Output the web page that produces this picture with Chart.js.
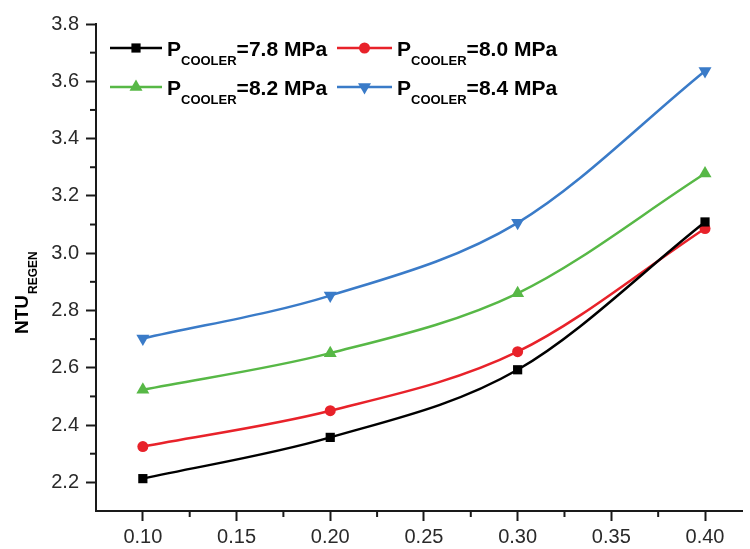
<!DOCTYPE html>
<html>
<head>
<meta charset="utf-8">
<script src="https://cdn.jsdelivr.net/npm/chart.js@4/dist/chart.umd.min.js"></script>
<style>
    html, body { margin: 0; padding: 0; background: #fff; }
    #wrap { width: 750px; height: 549px; position: relative; }
</style>
</head>
<body>
<div id="wrap"><canvas id="chartCanvas"></canvas></div>
<script>
const xValues = [0.10, 0.20, 0.30, 0.40]; // x positions of the points
const p78 = [2.213, 2.357, 2.593, 3.109]; // P_COOLER = 7.8 MPa
const p80 = [2.325, 2.450, 2.656, 3.086]; // P_COOLER = 8.0 MPa
const p82 = [2.523, 2.651, 2.860, 3.278]; // P_COOLER = 8.2 MPa
const p84 = [2.702, 2.852, 3.106, 3.636]; // P_COOLER = 8.4 MPa
const seriesValues = ["=7.8 MPa", "=8.0 MPa", "=8.2 MPa", "=8.4 MPa"];
const xTicks = [0.10, 0.15, 0.20, 0.25, 0.30, 0.35, 0.40];
const yTicks = [2.2, 2.4, 2.6, 2.8, 3.0, 3.2, 3.4, 3.6, 3.8];

const styles = [
    { color: "#000000", pointStyle: "rect", radius: 6.5, rotation: 0 },
    { color: "#e8222a", pointStyle: "circle", radius: 5.5, rotation: 0 },
    { color: "#57b846", pointStyle: "triangle", radius: 7.5, rotation: 0 },
    { color: "#3a7bc8", pointStyle: "triangle", radius: 7.5, rotation: 180 }
];

const allSeries = [p78, p80, p82, p84];

const datasets = allSeries.map(function (vals, i) {
    return {
        label: "P COOLER" + seriesValues[i],
        data: vals.map(function (v, j) { return { x: xValues[j], y: v }; }),
        borderColor: styles[i].color,
        backgroundColor: styles[i].color,
        borderWidth: 2.5,
        pointStyle: styles[i].pointStyle,
        pointRadius: styles[i].radius,
        pointRotation: styles[i].rotation,
        pointBorderWidth: 0,
        pointHoverRadius: styles[i].radius,
        cubicInterpolationMode: "monotone",
        clip: false
    };
});

const fontFamily = "'Liberation Sans', Arial, sans-serif";
const axisColor = "#1a1a1a";

// minor ticks, legend with subscripts, y axis title
const extras = {
    id: "extras",
    afterDraw: function (chart) {
        const ctx = chart.ctx;
        const xs = chart.scales.x;
        const ys = chart.scales.y;
        const area = chart.chartArea;

        ctx.save();
        ctx.strokeStyle = axisColor;
        ctx.lineWidth = 2;
        for (let i = 0; i < xTicks.length - 1; i++) {
            const px = xs.getPixelForValue((xTicks[i] + xTicks[i + 1]) / 2);
            ctx.beginPath();
            ctx.moveTo(px, area.bottom);
            ctx.lineTo(px, area.bottom + 6);
            ctx.stroke();
        }
        for (let i = 0; i < yTicks.length - 1; i++) {
            const py = ys.getPixelForValue((yTicks[i] + yTicks[i + 1]) / 2);
            ctx.beginPath();
            ctx.moveTo(area.left, py);
            ctx.lineTo(area.left - 6, py);
            ctx.stroke();
        }

        // legend
        const cols = [{ x0: 110, x1: 162 }, { x0: 337, x1: 392 }];
        const rows = [48, 87];
        for (let i = 0; i < 4; i++) {
            const c = cols[i % 2];
            const ry = rows[Math.floor(i / 2)];
            const st = styles[i];
            ctx.strokeStyle = st.color;
            ctx.fillStyle = st.color;
            ctx.lineWidth = 2.5;
            ctx.beginPath();
            ctx.moveTo(c.x0, ry);
            ctx.lineTo(c.x1, ry);
            ctx.stroke();
            Chart.helpers.drawPoint(ctx, {
                pointStyle: st.pointStyle,
                radius: st.radius,
                rotation: st.rotation,
                borderWidth: 0
            }, (c.x0 + c.x1) / 2, ry);

            ctx.fillStyle = "#000";
            ctx.textBaseline = "alphabetic";
            ctx.textAlign = "left";
            let tx = c.x1 + 5;
            ctx.font = "bold 21px " + fontFamily;
            ctx.fillText("P", tx, ry + 7.5);
            tx += ctx.measureText("P").width;
            ctx.font = "bold 13px " + fontFamily;
            ctx.fillText("COOLER", tx, ry + 17);
            tx += ctx.measureText("COOLER").width;
            ctx.font = "bold 21px " + fontFamily;
            ctx.fillText(seriesValues[i], tx, ry + 7.5);
        }

        // y axis title NTU_REGEN
        ctx.translate(28, 334);
        ctx.rotate(-Math.PI / 2);
        ctx.fillStyle = "#000";
        ctx.font = "bold 19px " + fontFamily;
        ctx.fillText("NTU", 0, 0);
        const w = ctx.measureText("NTU").width;
        ctx.font = "bold 12px " + fontFamily;
        ctx.fillText("REGEN", w + 1, 9);
        ctx.restore();
    }
};

const ctx = document.getElementById("chartCanvas").getContext("2d");

const chart = new Chart(ctx, {
    type: "line",
    data: { datasets: datasets },
    plugins: [extras],
    options: {
        responsive: true,
        maintainAspectRatio: false,
        animation: false,
        layout: { padding: { top: 24, right: 0, bottom: 0, left: 0 } },
        plugins: {
            legend: { display: false },
            tooltip: { enabled: false }
        },
        scales: {
            x: {
                type: "linear",
                min: 0.075,
                max: 0.42,
                afterBuildTicks: function (scale) {
                    scale.ticks = xTicks.map(function (v) { return { value: v }; });
                },
                afterFit: function (scale) { scale.height = 38; },
                ticks: {
                    color: "#2a2a2a",
                    padding: 4,
                    font: { family: fontFamily, size: 20 },
                    callback: function (v) { return Number(v).toFixed(2); }
                },
                grid: {
                    drawOnChartArea: false,
                    drawTicks: true,
                    tickLength: 10,
                    tickWidth: 2,
                    tickColor: axisColor
                },
                border: { display: true, color: axisColor, width: 2 }
            },
            y: {
                type: "linear",
                min: 2.1,
                max: 3.8,
                afterBuildTicks: function (scale) {
                    scale.ticks = yTicks.map(function (v) { return { value: v }; });
                },
                afterFit: function (scale) { scale.width = 96; },
                ticks: {
                    color: "#2a2a2a",
                    padding: 7,
                    font: { family: fontFamily, size: 20 },
                    callback: function (v) { return Number(v).toFixed(1); }
                },
                grid: {
                    drawOnChartArea: false,
                    drawTicks: true,
                    tickLength: 10,
                    tickWidth: 2,
                    tickColor: axisColor
                },
                border: { display: true, color: axisColor, width: 2 }
            }
        }
    }
});
</script>
</body>
</html>
